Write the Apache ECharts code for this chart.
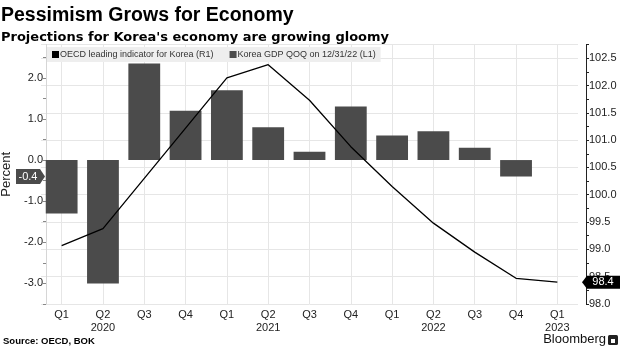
<!DOCTYPE html>
<html>
<head>
<meta charset="utf-8">
<script src="https://cdn.jsdelivr.net/npm/echarts@6/dist/echarts.min.js"></script>
<style>
  html, body { margin: 0; padding: 0; background: #ffffff; }
  #chart { width: 620px; height: 348px; }
</style>
</head>
<body>
<div id="chart"></div>
<script>
// Quarterly categories, Q1 2020 .. Q1 2023
const quarters = ['Q1', 'Q2', 'Q3', 'Q4', 'Q1', 'Q2', 'Q3', 'Q4', 'Q1', 'Q2', 'Q3', 'Q4', 'Q1'];
const yearLabels = ['', '2020', '', '', '', '2021', '', '', '', '2022', '', '', '2023'];

// Korea GDP, % change quarter on quarter (left axis)
const gdpQoQ = [-1.3, -3.0, 2.35, 1.2, 1.7, 0.8, 0.2, 1.3, 0.6, 0.7, 0.3, -0.4, null];

// OECD composite leading indicator for Korea (right axis)
const oecdCli = [99.07, 99.38, 100.3, 101.22, 102.14, 102.38, 101.73, 100.88, 100.15, 99.48, 98.95, 98.47, 98.4];

// Axis ticks and labels
const leftTickValues = [-3.5, -3.0, -2.5, -2.0, -1.5, -1.0, -0.5, 0.0, 0.5, 1.0, 1.5, 2.0, 2.5];
const leftLabelValues = [-3.0, -2.0, -1.0, 0.0, 1.0, 2.0];
const rightLabelStep = 0.5;

const seriesNames = ['OECD leading indicator for Korea (R1)', 'Korea GDP QOQ on 12/31/22 (L1)'];

const FONT = '"Liberation Sans", Arial, sans-serif';
const BAR_COLOR = '#4b4b4b';

const categoryLabels = quarters.map((q, i) => yearLabels[i] ? q + '\n' + yearLabels[i] : q);

const chart = echarts.init(document.getElementById('chart'), null, { renderer: 'canvas' });

const option = {
  backgroundColor: '#ffffff',
  animation: false,
  textStyle: { fontFamily: FONT },
  title: {
    text: 'Pessimism Grows for Economy',
    subtext: "Projections for Korea's economy are growing gloomy",
    left: 1,
    top: 6,
    itemGap: 5,
    padding: 0,
    textStyle: { fontFamily: FONT, fontSize: 19.5, fontWeight: 'bold', color: '#000000' },
    subtextStyle: { fontFamily: '"DejaVu Sans", sans-serif', fontSize: 13, fontWeight: 'bold', color: '#000000' }
  },
  legend: {
    data: seriesNames,
    left: 47,
    top: 47,
    orient: 'horizontal',
    icon: 'rect',
    itemWidth: 7,
    itemHeight: 7,
    itemGap: 16,
    padding: [3, 5, 3, 5],
    backgroundColor: '#eeeeee',
    borderRadius: 0,
    textStyle: { fontFamily: FONT, fontSize: 9, color: '#333333', padding: [0, 0, 0, -4] }
  },
  grid: { left: 41, right: 42, top: 44.5, bottom: 44, containLabel: false, outerBoundsMode: 'none' },
  xAxis: {
    type: 'category',
    data: categoryLabels,
    boundaryGap: true,
    axisLine: { show: false },
    axisTick: { show: false },
    axisLabel: { interval: 0, fontSize: 11, color: '#222222', lineHeight: 13, margin: 4 },
    splitLine: { show: true, alignWithLabel: true, lineStyle: { color: '#e6e6e6', width: 1 } }
  },
  yAxis: [
    {
      type: 'value',
      position: 'left',
      min: -3.5,
      max: 2.81,
      offset: -5,
      name: 'Percent',
      nameLocation: 'middle',
      nameGap: 30,
      nameTextStyle: { fontSize: 13, color: '#222222' },
      axisLine: { show: true, lineStyle: { color: '#d6d6d6' } },
      axisTick: { show: true, length: 3, customValues: leftTickValues, lineStyle: { color: '#888888' } },
      axisLabel: {
        fontSize: 11, color: '#222222', margin: 3,
        customValues: leftLabelValues,
        formatter: v => v.toFixed(1)
      },
      splitLine: { show: false }
    },
    {
      type: 'value',
      position: 'right',
      min: 98.0,
      max: 102.75,
      interval: rightLabelStep,
      offset: 8,
      axisLine: { show: true, lineStyle: { color: '#222222' } },
      axisTick: { show: true, length: 3, lineStyle: { color: '#222222' } },
      minorTick: { show: true, splitNumber: 2, length: 3, lineStyle: { color: '#222222' } },
      axisLabel: {
        fontSize: 11, color: '#222222', margin: 3,
        formatter: v => {
          const k = v / rightLabelStep;
          return Math.abs(k - Math.round(k)) < 1e-6 ? v.toFixed(1) : '';
        }
      },
      splitLine: { show: true, lineStyle: { color: '#e6e6e6', width: 1 } }
    }
  ],
  series: [
    {
      name: seriesNames[0],
      type: 'line',
      yAxisIndex: 1,
      data: oecdCli,
      symbol: 'none',
      z: 5,
      lineStyle: { color: '#000000', width: 1.3 },
      itemStyle: { color: '#000000' }
    },
    {
      name: seriesNames[1],
      type: 'bar',
      yAxisIndex: 0,
      data: gdpQoQ,
      barWidth: '77%',
      z: 2,
      itemStyle: { color: BAR_COLOR }
    }
  ]
};

chart.setOption(option);

// Value tags on the axes for the latest observations
const lastGdpIndex = gdpQoQ.length - 2;
const lastGdp = gdpQoQ[lastGdpIndex];
const lastCli = oecdCli[oecdCli.length - 1];
const yGdp = chart.convertToPixel({ yAxisIndex: 0 }, lastGdp);
const yCli = chart.convertToPixel({ yAxisIndex: 1 }, lastCli);

chart.setOption({
  graphic: [
    {
      type: 'polygon',
      shape: { points: [[16, yGdp - 7.5], [40, yGdp - 7.5], [45, yGdp], [40, yGdp + 7.5], [16, yGdp + 7.5]] },
      style: { fill: '#4b4b4b' },
      z: 10
    },
    {
      type: 'text',
      x: 28, y: yGdp,
      style: { text: lastGdp.toFixed(1), fill: '#ffffff', font: '11px ' + FONT, align: 'center', verticalAlign: 'middle' },
      z: 11
    },
    {
      type: 'polygon',
      shape: { points: [[582, yCli], [587, yCli - 6.5], [620, yCli - 6.5], [620, yCli + 6.5], [587, yCli + 6.5]] },
      style: { fill: '#000000' },
      z: 10
    },
    {
      type: 'text',
      x: 603, y: yCli,
      style: { text: lastCli.toFixed(1), fill: '#ffffff', font: '11px ' + FONT, align: 'center', verticalAlign: 'middle' },
      z: 11
    },
    {
      type: 'text',
      left: 3, top: 336,
      style: { text: 'Source: OECD, BOK', fill: '#000000', font: 'bold 9.5px ' + FONT }
    },
    {
      type: 'text',
      right: 14, top: 333,
      style: { text: 'Bloomberg', fill: '#111111', font: '13px ' + FONT }
    },
    {
      type: 'rect',
      right: 2, top: 335,
      shape: { width: 10, height: 10, r: 1.5 },
      style: { fill: '#222222' }
    },
    {
      type: 'rect',
      right: 5, top: 339,
      shape: { width: 4, height: 4 },
      style: { fill: '#ffffff' }
    }
  ]
});
</script>
</body>
</html>
